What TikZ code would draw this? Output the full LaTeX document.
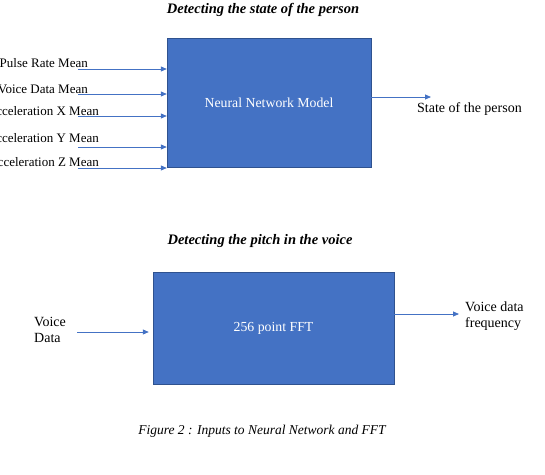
\documentclass[tikz,border=0pt]{standalone}
\usepackage{fontspec}
\setmainfont{Liberation Serif}
\usetikzlibrary{arrows.meta, positioning, calc}
\definecolor{boxblue}{HTML}{4472C4}
\definecolor{boxedge}{HTML}{2F528F}
\tikzset{
  block/.style={rectangle, draw=boxedge, fill=boxblue, text=white,
                font=\fontsize{13.8}{16}\selectfont, inner sep=0pt},
  lbl/.style={font=\fontsize{14}{16}\selectfont, inner sep=0pt, align=left},
  inlbl/.style={lbl, font=\fontsize{13}{16}\selectfont},
  ttl/.style={font=\fontsize{14.5}{16}\selectfont\bfseries\itshape, inner sep=0pt},
  figcap/.style={font=\fontsize{13.5}{16}\selectfont\itshape, inner sep=0pt},
  arr/.style={-{Triangle[width=5pt,length=6pt]}, draw=boxblue, line width=0.8pt},
}

\begin{document}
\begin{tikzpicture}[x=1pt, y=-1pt]
  \useasboundingbox (0,0) rectangle (545,474);

  % state of the person
  \node[ttl] (title1) at (263,10) {Detecting the state of the person};
  \node[block, minimum width=204pt, minimum height=129pt] (nn) at (269,102.5)
    {Neural Network Model};

  \foreach \y/\txt/\ex/\by [count=\i] in {
      69/Pulse Rate Mean/88/67.5,
      94/Voice Data Mean/88/93.5,
      116/Acceleration X Mean/99/115.5,
      147/Acceleration Y Mean/99/142.5,
      168/Acceleration Z Mean/99/166.5} {
    \node[inlbl, anchor=base east] (in\i) at (\ex,\by) {\txt};
    \coordinate (tail\i) at (78,\y);
    \draw[arr] (tail\i) -- (tail\i -| nn.west);
  }

  \coordinate (head1) at (431,97);
  \draw[arr] (nn.east |- head1) -- (head1);
  \node[lbl, anchor=west] (state) at (417,109) {State of the person};

  % pitch in the voice
  \node[ttl] (title2) at (260,241) {Detecting the pitch in the voice};
  \node[block, minimum width=241pt, minimum height=112pt] (fft) at (273.5,328)
    {256 point FFT};

  \node[lbl, anchor=north west] (voice) at (34,317) {Voice\\Data};
  \coordinate (tail6) at (77,332);
  \draw[arr, shorten >=4pt] (tail6) -- (tail6 -| fft.west);

  \coordinate (head2) at (459,314);
  \draw[arr] (fft.east |- head2) -- (head2);
  \node[lbl, anchor=north west] (freq) at (465,302) {Voice data\\frequency};

  \node[figcap] (caption) at (262,431) {Figure 2 : Inputs to Neural Network and FFT};
\end{tikzpicture}
\end{document}
